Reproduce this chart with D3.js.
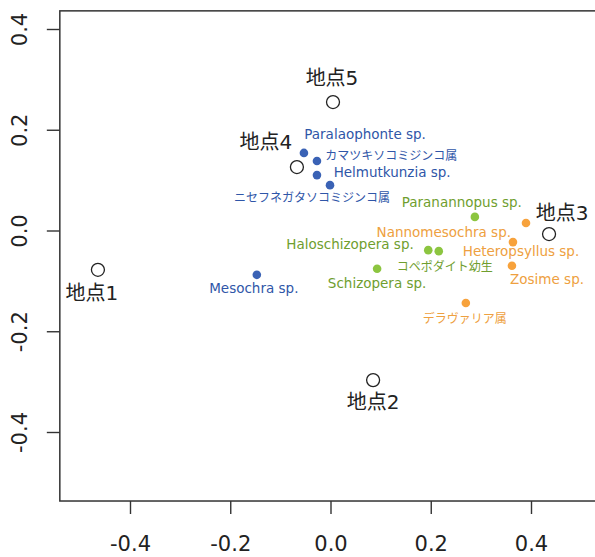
<!DOCTYPE html>
<html>
<head>
<meta charset="utf-8">
<script src="https://cdn.jsdelivr.net/npm/d3@7"></script>
<style>
    body { margin: 0; background: #fff; }
    svg { display: block; }
</style>
</head>
<body>
<svg id="chart"></svg>
<script>
// sites (open circles)
var siteNames = ['地点1', '地点2', '地点3', '地点4', '地点5'];
var siteX = [-0.464, 0.085, 0.436, -0.067, 0.005];
var siteY = [-0.078, -0.297, -0.007, 0.126, 0.255];
var siteLabelX = [-0.476, 0.085, 0.462, -0.129, 0.003];
var siteLabelY = [-0.124, -0.341, 0.035, 0.176, 0.303];

// species (filled dots), group 0 blue, 1 green, 2 orange
var speciesNames = [
    'Paralaophonte sp.', 'カマツキソコミジンコ属', 'Helmutkunzia sp.', 'ニセフネガタソコミジンコ属', 'Mesochra sp.',
    'Paranannopus sp.', 'Haloschizopera sp.', 'コペポダイト幼生', 'Schizopera sp.',
    'Nannomesochra sp.', 'Heteropsyllus sp.', 'Zosime sp.', 'デラヴァリア属'
];
var speciesGroup = [0, 0, 0, 0, 0, 1, 1, 1, 1, 2, 2, 2, 2];
var speciesX = [-0.053, -0.027, -0.027, -0.001, -0.147, 0.288, 0.195, 0.216, 0.093, 0.390, 0.364, 0.362, 0.270];
var speciesY = [0.154, 0.138, 0.110, 0.090, -0.088, 0.027, -0.039, -0.041, -0.076, 0.015, -0.023, -0.070, -0.144];
var speciesLabelX = [0.069, 0.121, 0.123, -0.037, -0.153, 0.262, 0.039, 0.228, 0.093, 0.226, 0.380, 0.432, 0.268];
var speciesLabelY = [0.192, 0.148, 0.116, 0.065, -0.114, 0.057, -0.027, -0.073, -0.104, -0.003, -0.041, -0.096, -0.176];

var xTicks = [-0.4, -0.2, 0.0, 0.2, 0.4];
var yTicks = [-0.4, -0.2, 0.0, 0.2, 0.4];
var xLimits = [-0.54, 0.6];
var yLimits = [-0.537, 0.436];

var dotColors = ['#3a62b5', '#8cc540', '#f7a23c'];
var textColors = ['#2f56a8', '#6f9e2e', '#eea040'];

var width = 595, height = 557;

var x = d3.scaleLinear().domain([-0.4, 0.4]).range([130, 531]);
var y = d3.scaleLinear().domain([-0.4, 0.4]).range([432, 29]);

var svg = d3.select('#chart')
    .attr('width', width)
    .attr('height', height)
    .style('font-family', '"DejaVu Sans", "Noto Sans CJK JP", sans-serif');

var isCjk = function (s) { return /[^\x00-\x7f]/.test(s); };

// axes
var xAxis = d3.axisBottom(x)
    .tickValues(xTicks)
    .tickSize(13)
    .tickFormat(function (d) { return d.toFixed(1); });

var yAxis = d3.axisLeft(y)
    .tickValues(yTicks)
    .tickSize(13)
    .tickFormat(function (d) { return d.toFixed(1); });

var gx = svg.append('g')
    .attr('transform', 'translate(0,' + y(yLimits[0]) + ')')
    .call(xAxis);

gx.select('.domain').remove();
gx.selectAll('line').attr('stroke', '#333').attr('stroke-width', 1.4);
gx.selectAll('text')
    .attr('y', 43)
    .attr('dy', '0.35em')
    .attr('fill', '#222')
    .style('font-size', '21px')
    .style('font-family', '"DejaVu Sans", sans-serif');

var gy = svg.append('g')
    .attr('transform', 'translate(' + x(xLimits[0]) + ',0)')
    .call(yAxis);

gy.select('.domain').remove();
gy.selectAll('line').attr('stroke', '#333').attr('stroke-width', 1.4);
gy.selectAll('text')
    .attr('x', null)
    .attr('dy', '0.35em')
    .attr('text-anchor', 'middle')
    .attr('transform', 'translate(-40,0) rotate(-90)')
    .attr('fill', '#222')
    .style('font-size', '21px')
    .style('font-family', '"DejaVu Sans", sans-serif');

// plot box
svg.append('rect')
    .attr('x', x(xLimits[0]))
    .attr('y', y(yLimits[1]))
    .attr('width', x(xLimits[1]) - x(xLimits[0]))
    .attr('height', y(yLimits[0]) - y(yLimits[1]))
    .attr('fill', 'none')
    .attr('stroke', '#333')
    .attr('stroke-width', 1.5);

var idx = d3.range(speciesNames.length);

svg.append('g').selectAll('circle')
    .data(idx)
    .enter().append('circle')
    .attr('cx', function (i) { return x(speciesX[i]); })
    .attr('cy', function (i) { return y(speciesY[i]); })
    .attr('r', 4.3)
    .attr('fill', function (i) { return dotColors[speciesGroup[i]]; });

svg.append('g').selectAll('text')
    .data(idx)
    .enter().append('text')
    .attr('x', function (i) { return x(speciesLabelX[i]); })
    .attr('y', function (i) { return y(speciesLabelY[i]); })
    .attr('dy', '0.35em')
    .attr('text-anchor', 'middle')
    .attr('fill', function (i) { return textColors[speciesGroup[i]]; })
    .style('font-size', function (i) { return isCjk(speciesNames[i]) ? '12px' : '13.5px'; })
    .text(function (i) { return speciesNames[i]; });

var sIdx = d3.range(siteNames.length);

svg.append('g').selectAll('circle')
    .data(sIdx)
    .enter().append('circle')
    .attr('cx', function (i) { return x(siteX[i]); })
    .attr('cy', function (i) { return y(siteY[i]); })
    .attr('r', 6.5)
    .attr('fill', '#fff')
    .attr('stroke', '#222')
    .attr('stroke-width', 1.3);

svg.append('g').selectAll('text')
    .data(sIdx)
    .enter().append('text')
    .attr('x', function (i) { return x(siteLabelX[i]); })
    .attr('y', function (i) { return y(siteLabelY[i]); })
    .attr('dy', '0.35em')
    .attr('text-anchor', 'middle')
    .attr('fill', '#222')
    .style('font-size', '20px')
    .text(function (i) { return siteNames[i]; });
</script>
</body>
</html>
